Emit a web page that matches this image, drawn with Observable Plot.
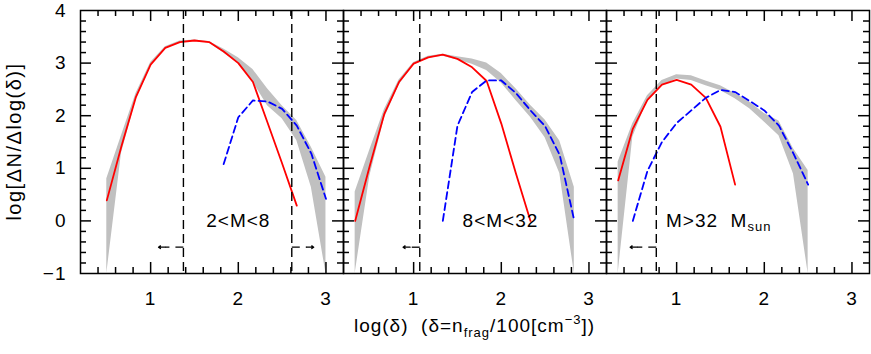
<!DOCTYPE html>
<html><head><meta charset="utf-8">
<script src="https://cdn.jsdelivr.net/npm/d3@7"></script>
<script src="https://cdn.jsdelivr.net/npm/@observablehq/plot@0.6"></script>
<style>body{margin:0;background:#fff} svg{display:block}</style>
</head><body><div id="chart"></div>
<script>
// Panel names (facets)
const panelNames = ["2<M<8", "8<M<32", "M>32 Msun"];

// Panel 1: 2<M<8
const p1BandX = [0.5,0.667,0.833,1.0,1.167,1.333,1.5,1.667,1.833,2.0,2.167,2.333,2.5,2.667,2.833,3.0];
const p1BandHi = [0.8,1.62,2.42,3.01,3.31,3.42,3.44,3.41,3.27,3.1,2.88,2.51,2.19,1.91,1.40,0.83];
const p1BandLo = [-1.0,1.28,2.30,2.94,3.27,3.38,3.41,3.38,3.19,3.0,2.64,2.19,1.94,1.53,0.64,-1.0];
const p1RedX = [0.5,0.667,0.833,1.0,1.167,1.333,1.5,1.667,1.833,2.0,2.167,2.333,2.5,2.667];
const p1Red = [0.39,1.42,2.36,2.97,3.29,3.40,3.43,3.40,3.22,3.0,2.64,1.87,1.09,0.29];
const p1BlueX = [1.833,2.0,2.167,2.333,2.5,2.667,2.833,3.0];
const p1Blue = [1.08,1.97,2.29,2.27,2.13,1.81,1.28,0.42];

// Panel 2: 8<M<32
const p2BandX = [0.333,0.5,0.667,0.833,1.0,1.167,1.333,1.5,1.667,1.833,2.0,2.167,2.333,2.5,2.667,2.833];
const p2BandHi = [0.55,1.35,2.12,2.68,3.01,3.13,3.17,3.12,3.08,3.0,2.80,2.51,2.20,1.92,1.52,0.64];
const p2BandLo = [-1.0,0.85,1.95,2.58,2.96,3.09,3.13,3.06,2.98,2.86,2.62,2.29,1.97,1.58,0.9,-1.0];
const p2RedX = [0.333,0.5,0.667,0.833,1.0,1.167,1.333,1.5,1.667,1.833,2.0,2.167,2.333];
const p2Red = [0.0,1.05,2.04,2.64,2.99,3.11,3.16,3.08,2.92,2.66,1.85,0.9,0.0];
const p2BlueX = [1.333,1.5,1.667,1.833,2.0,2.167,2.333,2.5,2.667,2.833];
const p2Blue = [0.0,1.81,2.45,2.67,2.67,2.43,2.1,1.8,1.25,0.0];

// Panel 3: M>32 Msun
const p3BandX = [0.333,0.5,0.667,0.833,1.0,1.167,1.333,1.5,1.667,1.833,2.0,2.167,2.333,2.5];
const p3BandHi = [1.12,1.85,2.38,2.67,2.78,2.76,2.66,2.57,2.42,2.26,2.04,1.9,1.37,0.96];
const p3BandLo = [-1.0,1.59,2.29,2.57,2.70,2.67,2.57,2.48,2.32,2.13,1.88,1.62,0.89,-1.0];
const p3RedX = [0.333,0.5,0.667,0.833,1.0,1.167,1.333,1.5,1.667];
const p3Red = [0.77,1.75,2.30,2.59,2.68,2.59,2.34,1.79,0.69];
const p3BlueX = [0.5,0.667,0.833,1.0,1.167,1.333,1.5,1.667,1.833,2.0,2.167,2.333,2.5];
const p3Blue = [0.0,0.95,1.5,1.86,2.1,2.34,2.49,2.45,2.28,2.1,1.81,1.28,0.69];

// Vertical dashed cuts and arrows
const cutPanel = ["2<M<8", "2<M<8", "8<M<32", "M>32 Msun"];
const cutX = [1.374, 2.61, 1.07, 0.768];
const arrowEndX = [1.09, 2.86, 0.88, 0.47];
const arrowY = -0.5;

// Panel label positions
const labelX = [2.0, 1.99, 1.48];
const labelY = 0;

// Ticks
const xMajorTicks = [1, 2, 3];
const xMinorTicks = [0.4,0.6,0.8,1.2,1.4,1.6,1.8,2.2,2.4,2.6,2.8];
const yMajorTicks = [0, 1, 2, 3];
const yTickLabels = [-1, 0, 1, 2, 3, 4];
const yMinorTicks = [-0.8,-0.6,-0.4,-0.2,0.2,0.4,0.6,0.8,1.2,1.4,1.6,1.8,2.2,2.4,2.6,2.8,3.2,3.4,3.6,3.8];
const xDomain = [0.2, 3.2];
const yDomain = [-1, 4];

// Build tables
const band = [], red = [], blue = [];
[[p1BandX,p1BandHi,p1BandLo],[p2BandX,p2BandHi,p2BandLo],[p3BandX,p3BandHi,p3BandLo]].forEach(([xs,hi,lo],k) =>
  xs.forEach((x,i) => band.push({panel: panelNames[k], x, hi: hi[i], lo: lo[i]})));
[[p1RedX,p1Red],[p2RedX,p2Red],[p3RedX,p3Red]].forEach(([xs,ys],k) =>
  xs.forEach((x,i) => red.push({panel: panelNames[k], x, y: ys[i]})));
[[p1BlueX,p1Blue],[p2BlueX,p2Blue],[p3BlueX,p3Blue]].forEach(([xs,ys],k) =>
  xs.forEach((x,i) => blue.push({panel: panelNames[k], x, y: ys[i]})));

const W = 871, Hh = 354, mL = 79, mR = 1, mT = 10, mB = 81;
const H = Hh - mT - mB;
const FW = (W - mL - mR) / 3;
// pixel -> data conversions (tick lengths and arrowheads)
const yPerPx = (yDomain[1] - yDomain[0]) / H;
const xPerPx = (xDomain[1] - xDomain[0]) / FW;

const cuts = cutX.map((x,i) => ({panel: cutPanel[i], x, x2: arrowEndX[i],
  xh: arrowEndX[i] + Math.sign(x - arrowEndX[i]) * 7 * xPerPx}));
const labels = panelNames.map((p,i) => ({panel: p, x: labelX[i], y: labelY}));

const tk = {stroke: "black", strokeWidth: 1.5};
const minL = 6, majL = 11;
const fmt = d => d < 0 ? "\u2212" + Math.abs(d) : String(d);

const svg = Plot.plot({
  width: W, height: Hh,
  marginLeft: mL, marginRight: mR, marginTop: mT, marginBottom: mB,
  style: {fontFamily: "Liberation Sans, Arial, sans-serif", fontSize: "19px", letterSpacing: "1px", background: "white", color: "black"},
  fx: {domain: panelNames, padding: 0, axis: null},
  x: {domain: xDomain},
  y: {domain: yDomain},
  marks: [
    Plot.areaY(band, {fx: "panel", x: "x", y1: "lo", y2: "hi", fill: "#c0c0c0"}),
    Plot.line(red, {fx: "panel", x: "x", y: "y", stroke: "#ff0000", strokeWidth: 1.8}),
    Plot.line(blue, {fx: "panel", x: "x", y: "y", stroke: "#0000ff", strokeWidth: 1.8, strokeDasharray: "7,4"}),
    Plot.ruleX(cuts, {fx: "panel", x: "x", stroke: "black", strokeWidth: 1.4, strokeDasharray: "9,5"}),
    // arrows: dashed shaft + solid head
    Plot.link(cuts, {fx: "panel", x1: "x", x2: "xh", y1: arrowY, y2: arrowY, stroke: "black", strokeWidth: 1.3, strokeDasharray: "8,6", strokeDashoffset: 14}),
    Plot.arrow(cuts, {fx: "panel", x1: "xh", x2: "x2", y1: arrowY, y2: arrowY, stroke: "black", strokeWidth: 1.3, headLength: 6, headAngle: 70}),
    Plot.text(labels, {fx: "panel", x: "x", y: "y", text: "panel", fill: "black"}),
    // inward ticks on all four sides of each panel
    Plot.ruleX(xMinorTicks, {x: d => d, y1: yDomain[0], y2: yDomain[0] + minL * yPerPx, ...tk}),
    Plot.ruleX(xMinorTicks, {x: d => d, y1: yDomain[1], y2: yDomain[1] - minL * yPerPx, ...tk}),
    Plot.ruleX(xMajorTicks, {x: d => d, y1: yDomain[0], y2: yDomain[0] + majL * yPerPx, ...tk}),
    Plot.ruleX(xMajorTicks, {x: d => d, y1: yDomain[1], y2: yDomain[1] - majL * yPerPx, ...tk}),
    Plot.ruleY(yMinorTicks, {y: d => d, x1: xDomain[0], x2: xDomain[0] + minL * xPerPx, ...tk}),
    Plot.ruleY(yMinorTicks, {y: d => d, x1: xDomain[1], x2: xDomain[1] - minL * xPerPx, ...tk}),
    Plot.ruleY(yMajorTicks, {y: d => d, x1: xDomain[0], x2: xDomain[0] + majL * xPerPx, ...tk}),
    Plot.ruleY(yMajorTicks, {y: d => d, x1: xDomain[1], x2: xDomain[1] - majL * xPerPx, ...tk}),
    Plot.frame({stroke: "black", strokeWidth: 1.5}),
    Plot.axisX({ticks: xMajorTicks, tickSize: 0, tickPadding: 18, tickFormat: fmt, label: null}),
    Plot.axisY({ticks: yTickLabels, tickSize: 0, tickPadding: 14, tickFormat: fmt, label: null})
  ]
});

// Rich text for the third panel label (subscript "sun")
d3.select(svg).selectAll("text").each(function() {
  if (this.textContent === "M>32 Msun") {
    const t = d3.select(this);
    t.text(null);
    t.append("tspan").text("M>32\u00a0\u00a0M");
    t.append("tspan").attr("dy", "0.3em").attr("font-size", "13px").text("sun");
  }
});

const s = d3.select(svg);
// x axis title
const xt = s.append("text").attr("x", mL + (W - mL - mR) / 2).attr("y", 332)
  .attr("text-anchor", "middle").attr("fill", "black");
xt.append("tspan").text("log(δ)\u00a0\u00a0(δ=n");
xt.append("tspan").attr("dy", 5).attr("font-size", "13px").text("frag");
xt.append("tspan").attr("dy", -5).text("/100[cm");
xt.append("tspan").attr("dy", -8).attr("font-size", "13px").text("\u22123");
xt.append("tspan").attr("dy", 8).text("])");
// y axis title
s.append("text").attr("transform", `translate(21,${mT + H / 2}) rotate(-90)`)
  .attr("text-anchor", "middle").attr("fill", "black").attr("font-size", "20px")
  .style("letter-spacing", "1.5px").text("log[ΔN/Δlog(δ)]");

document.getElementById("chart").appendChild(svg);
</script>
</body></html>
